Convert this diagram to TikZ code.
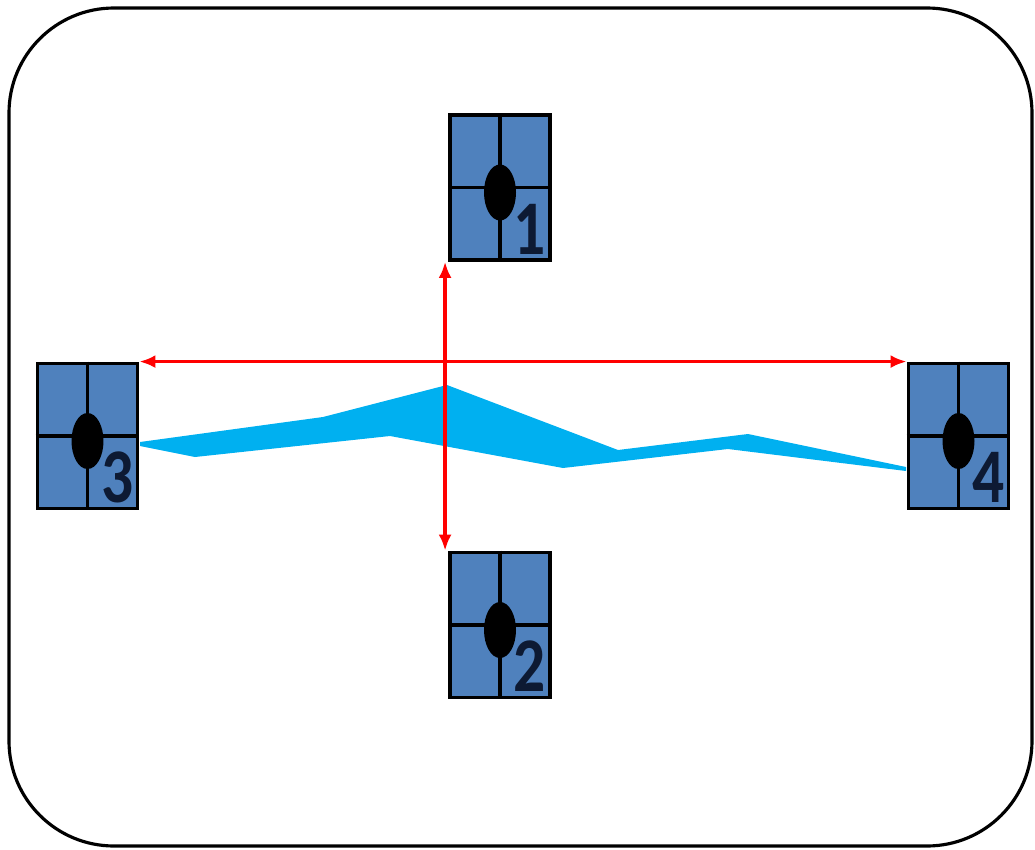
\documentclass[tikz,border=0pt]{standalone}
\usepackage{fontspec}
\setmainfont{Carlito}
\usetikzlibrary{arrows.meta,shapes.geometric}
\definecolor{tileblue}{HTML}{4F81BD}
\definecolor{waveblue}{HTML}{00B0F0}
\definecolor{digitnavy}{HTML}{0D1A33}
\tikzset{
  tile/.style={draw=black, line width=2.2pt, fill=tileblue, minimum width=2.0cm, minimum height=2.9cm, inner sep=0pt},
  divider/.style={line width=2pt},
  hole/.style={ellipse, fill=black, minimum width=0.64cm, minimum height=1.12cm, inner sep=0pt},
  digit/.style={text=digitnavy, font=\bfseries\fontsize{44}{44}\selectfont, inner sep=0pt, xscale=0.82, transform shape},
  link/.style={<->, red, line width=2pt},
}
\begin{document}
\begin{tikzpicture}[x=0.02cm, y=-0.02cm, >={Latex[length=3.2mm,width=2.6mm]}]
\useasboundingbox (0,0) rectangle (1035,849);
% frame
\draw[line width=1.8pt, rounded corners=2.1cm] (9,8) rectangle (1032,846);

% wave between 3 and 4
\fill[waveblue] (140,442) -- (323,417) -- (447,385) -- (618,450) -- (748,434) -- (906,467)
  -- (906,471) -- (728,449) -- (563,468) -- (390,436) -- (195,457) -- (140,446) -- cycle;

% the four tiles
\foreach \n/\x/\y in {1/500/187.5, 2/500/625, 3/87.5/436, 4/958.5/436} {
  \node[tile] (t\n) at (\x,\y) {};
  \draw[divider] (t\n.north) -- (t\n.south);
  \draw[divider] (t\n.west) -- (t\n.east);
  \node[hole] (h\n) at ([yshift=-0.1cm]t\n.center) {};
  \node[digit] (d\n) at ([xshift=0.6cm, yshift=-0.83cm]t\n.center) {\n};
}

% red links
\draw[link] ([xshift=-0.06cm]t1.south west) -- ([xshift=-0.06cm]t2.north west);
\draw[link] (t3.north east) -- (t4.north west);
\end{tikzpicture}
\end{document}
